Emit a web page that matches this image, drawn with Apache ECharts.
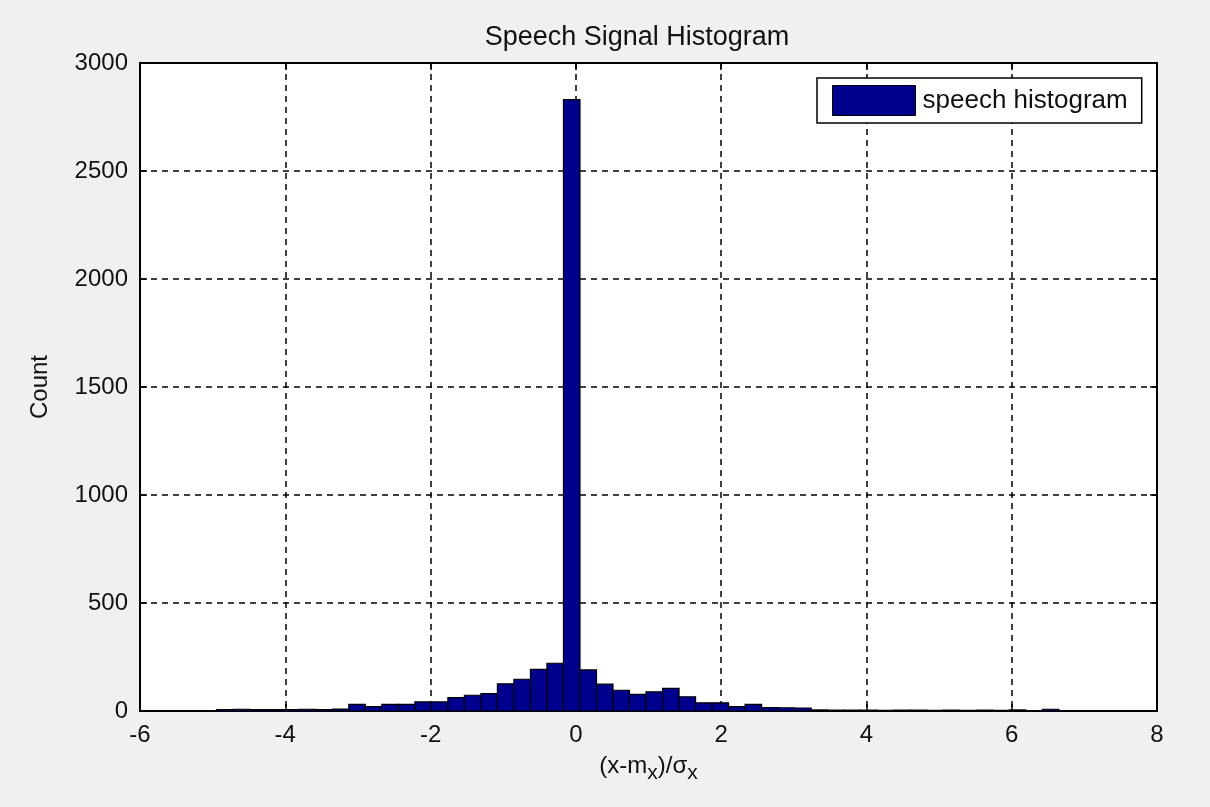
<!DOCTYPE html>
<html>
<head>
<meta charset="utf-8">
<script src="https://cdn.jsdelivr.net/npm/echarts@6/dist/echarts.min.js"></script>
<style>
html,body{margin:0;padding:0;background:#f0f0f0;}
#chart{width:1210px;height:807px;}
</style>
</head>
<body>
<div id="chart"></div>
<script>
// Histogram bin layout
var binStart = -4.944;
var binWidth = 0.2273;
// Counts per bin, left to right (51 bins)
var counts = [
  7, 8, 7, 6, 7, 8, 7, 9,
  31, 20, 31, 31, 42, 42, 62, 73, 80, 126, 147, 193, 221,
  2830,
  190, 124, 96, 77, 89, 105, 66, 38, 38, 20, 31, 16, 15, 14,
  5, 4, 4, 4, 3, 4, 4, 3, 4, 3, 4, 3, 5, 0, 8
];
var xTicks = [-6, -4, -2, 0, 2, 4, 6, 8];
var yTicks = [0, 500, 1000, 1500, 2000, 2500, 3000];

var barData = counts.map(function (c, i) {
  var x0 = binStart + i * binWidth;
  return [x0, x0 + binWidth, c];
});

var FONT = 'Liberation Sans';
var chart = echarts.init(document.getElementById('chart'), null, {renderer: 'canvas'});

var axisCommon = {
  axisLine: {show: true, onZero: false, lineStyle: {color: '#000', width: 2}},
  axisTick: {show: true, inside: true, length: 7, lineStyle: {color: '#000', width: 1.5}},
};

chart.setOption({
  backgroundColor: '#f0f0f0',
  animation: false,
  title: {
    text: 'Speech Signal Histogram',
    left: 632, top: 19, textAlign: 'center',
    textStyle: {fontFamily: FONT, fontSize: 27, fontWeight: 'normal', color: '#111'}
  },
  legend: {
    left: 817, top: 78,
    orient: 'horizontal',
    backgroundColor: '#fff',
    borderColor: '#000', borderWidth: 1.5,
    padding: [7, 14, 7, 15],
    itemWidth: 83, itemHeight: 30, itemGap: 5,
    icon: 'rect',
    textStyle: {fontFamily: FONT, fontSize: 26, color: '#111', padding: [0, 0, 0, 2]},
    data: [{name: 'speech histogram', itemStyle: {color: '#00008F', borderColor: '#000', borderWidth: 1}}]
  },
  grid: {
    left: 140, top: 63, right: 53, bottom: 96,
    show: true, backgroundColor: '#fff', borderColor: '#000', borderWidth: 2
  },
  xAxis: [
    Object.assign({
      type: 'value', min: -6, max: 8, interval: 2, position: 'bottom',
      name: '{n|(x-m}{s|x}{n|)/σ}{s|x}',
      nameLocation: 'middle', nameGap: 37,
      nameTextStyle: {
        rich: {
          n: {fontFamily: FONT, fontSize: 24, color: '#111'},
          s: {fontFamily: FONT, fontSize: 21, color: '#111', padding: [15, 0, 0, 0]}
        }
      },
      axisLabel: {
        fontFamily: FONT, fontSize: 24, color: '#111', margin: 12,
        formatter: function (v) { return String(v); }
      },
      splitLine: {show: true, lineStyle: {color: '#000', width: 1.5, type: [6, 5]}}
    }, axisCommon),
    Object.assign({
      type: 'value', min: -6, max: 8, interval: 2, position: 'top',
      axisLabel: {show: false}, splitLine: {show: false}
    }, axisCommon)
  ],
  yAxis: [
    Object.assign({
      type: 'value', min: 0, max: 3000, interval: 500, position: 'left',
      name: 'Count', nameLocation: 'middle', nameGap: 88, nameRotate: 90,
      nameTextStyle: {fontFamily: FONT, fontSize: 24, color: '#111'},
      axisLabel: {
        fontFamily: FONT, fontSize: 24, color: '#111', margin: 12,
        formatter: function (v) { return String(v); }
      },
      splitLine: {show: true, lineStyle: {color: '#000', width: 1.5, type: [6, 5]}}
    }, axisCommon),
    Object.assign({
      type: 'value', min: 0, max: 3000, interval: 500, position: 'right',
      axisLabel: {show: false}, splitLine: {show: false}
    }, axisCommon)
  ],
  series: [{
    name: 'speech histogram',
    type: 'custom',
    xAxisIndex: 0, yAxisIndex: 0,
    itemStyle: {color: '#00008F'},
    encode: {x: [0, 1], y: 2},
    data: barData,
    renderItem: function (params, api) {
      var p0 = api.coord([api.value(0), api.value(2)]);
      var p1 = api.coord([api.value(1), 0]);
      return {
        type: 'rect',
        shape: {x: p0[0], y: p0[1], width: p1[0] - p0[0], height: p1[1] - p0[1]},
        style: {fill: '#00008F', stroke: '#000', lineWidth: 1.2}
      };
    }
  }]
});
</script>
</body>
</html>
